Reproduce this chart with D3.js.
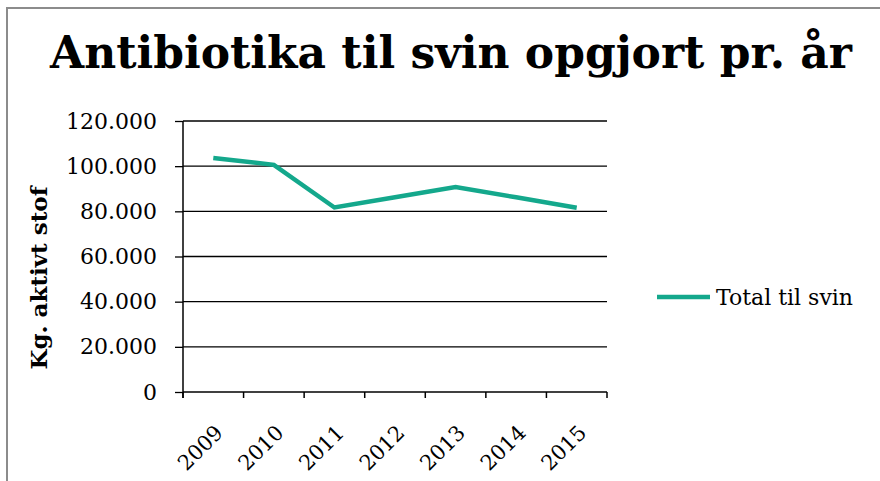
<!DOCTYPE html>
<html>
<head>
<meta charset="utf-8">
<script src="https://cdn.jsdelivr.net/npm/d3@7"></script>
<style>
  html, body { margin: 0; padding: 0; background: #fff; }
  svg { display: block; }
</style>
</head>
<body>
<div id="container"></div>
<script>
const width = 880, height = 481;
const font = "'DejaVu Serif', 'Liberation Serif', serif";

// --- Data ---------------------------------------------------------------
const years = ["2009", "2010", "2011", "2012", "2013", "2014", "2015"];
const totalSvin = [103600, 100600, 81700, 86200, 90800, 86200, 81600];
const yTicks = [0, 20000, 40000, 60000, 80000, 100000, 120000];
const seriesName = "Total til svin";
const lineColor = "#14a88c";

const margin = { top: 121, left: 183, right: 273, bottom: 89 };
const iw = width - margin.left - margin.right;
const ih = height - margin.top - margin.bottom;

const svg = d3.select("#container").append("svg")
  .attr("width", width).attr("height", height);

// outer frame
svg.append("rect")
  .attr("x", 7).attr("y", 8)
  .attr("width", width + 10).attr("height", height + 10)
  .attr("fill", "none").attr("stroke", "#8c8c8c").attr("stroke-width", 2);

const g = svg.append("g").attr("transform", `translate(${margin.left},${margin.top})`);

const x = d3.scaleBand().domain(years).range([0, iw]);
const y = d3.scaleLinear().domain([0, 120000]).range([ih, 0]);
const fmt = (v) => d3.format(",")(v).replace(/,/g, ".");

// gridlines
g.selectAll("line.grid")
  .data(yTicks.filter((d) => d > 0))
  .join("line")
  .attr("class", "grid")
  .attr("x1", 0).attr("x2", iw)
  .attr("y1", (d) => y(d)).attr("y2", (d) => y(d))
  .attr("stroke", "#000").attr("stroke-width", 1.3);

// y axis
const yAxis = g.append("g")
  .call(d3.axisLeft(y).tickValues(yTicks).tickSize(8).tickPadding(18).tickFormat(fmt));
yAxis.select(".domain").attr("stroke", "#000").attr("stroke-width", 1.5).attr("d", `M0,${ih + 6}V0`);
yAxis.selectAll("line").attr("stroke", "#000").attr("stroke-width", 1.3);
yAxis.selectAll("text")
  .attr("fill", "#000")
  .style("font-family", font)
  .style("font-size", "22px");

// x axis
const xAxis = g.append("g")
  .attr("transform", `translate(0,${ih})`)
  .call(d3.axisBottom(x).tickSize(0).tickFormat(""));
xAxis.select(".domain").attr("stroke", "#000").attr("stroke-width", 1.5).attr("d", `M0,0H${iw}`);

const xTickPos = d3.range(years.length + 1).map((i) => i * x.step());
g.selectAll("line.xtick")
  .data(xTickPos)
  .join("line")
  .attr("class", "xtick")
  .attr("x1", (d) => d).attr("x2", (d) => d)
  .attr("y1", ih).attr("y2", ih + 6)
  .attr("stroke", "#000").attr("stroke-width", 1.5);

g.selectAll("text.xlabel")
  .data(years)
  .join("text")
  .attr("class", "xlabel")
  .attr("transform", (d) => `translate(${x(d) + x.bandwidth() / 2 + 11},${ih + 42}) rotate(-45)`)
  .attr("text-anchor", "end")
  .attr("fill", "#000")
  .style("font-family", font)
  .style("font-size", "21px")
  .text((d) => d);

// line
const line = d3.line()
  .x((d, i) => x(years[i]) + x.bandwidth() / 2)
  .y((d) => y(d));

g.append("path")
  .datum(totalSvin)
  .attr("d", line)
  .attr("fill", "none")
  .attr("stroke", lineColor)
  .attr("stroke-width", 4.5);

// y title
svg.append("text")
  .attr("transform", `translate(47,278) rotate(-90)`)
  .attr("text-anchor", "middle")
  .attr("fill", "#000")
  .style("font-family", font)
  .style("font-weight", "bold")
  .style("font-size", "23px")
  .text("Kg. aktivt stof");

// legend
const lg = svg.append("g").attr("transform", "translate(657,297)");
lg.append("line")
  .attr("x1", 0).attr("x2", 53)
  .attr("stroke", lineColor).attr("stroke-width", 4.5);
lg.append("text")
  .attr("x", 59).attr("y", 8)
  .attr("fill", "#000")
  .style("font-family", font)
  .style("font-size", "22px")
  .text(seriesName);

// title
svg.append("text")
  .attr("x", 451).attr("y", 68)
  .attr("text-anchor", "middle")
  .attr("fill", "#000")
  .style("font-family", font)
  .style("font-weight", "bold")
  .style("font-size", "44px")
  .text("Antibiotika til svin opgjort pr. år");
</script>
</body>
</html>
